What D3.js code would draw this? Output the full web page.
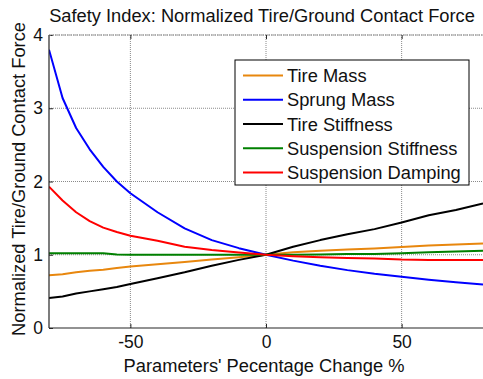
<!DOCTYPE html>
<html>
<head>
<meta charset="utf-8">
<script src="https://cdn.jsdelivr.net/npm/d3@7"></script>
<style>
  html, body { margin: 0; padding: 0; background: #fff; }
  svg { display: block; font-family: "Liberation Sans", Arial, sans-serif; }
</style>
</head>
<body>
<svg id="chart" width="483" height="379"></svg>
<script>
// Parameter change (%) sample points
const changePct = [-80, -75, -70, -65, -60, -55, -50, -40, -30, -20, -10, 0, 10, 20, 30, 40, 50, 60, 70, 80];

// Normalized tire/ground contact force for each varied parameter
const tireMass = [0.72, 0.735, 0.76, 0.78, 0.795, 0.82, 0.84, 0.87, 0.90, 0.935, 0.965, 1.0, 1.035, 1.055, 1.07, 1.085, 1.105, 1.125, 1.14, 1.155];
const sprungMass = [3.80, 3.14, 2.73, 2.44, 2.20, 2.00, 1.84, 1.58, 1.36, 1.20, 1.09, 1.0, 0.92, 0.85, 0.79, 0.74, 0.70, 0.66, 0.625, 0.595];
const tireStiffness = [0.41, 0.43, 0.47, 0.50, 0.53, 0.56, 0.60, 0.68, 0.76, 0.85, 0.93, 1.0, 1.11, 1.20, 1.28, 1.35, 1.44, 1.54, 1.61, 1.70];
const suspStiffness = [1.02, 1.02, 1.02, 1.02, 1.02, 1.005, 1.0, 1.0, 1.0, 1.0, 1.0, 1.0, 1.0, 1.005, 1.01, 1.01, 1.02, 1.035, 1.045, 1.055];
const suspDamping = [1.93, 1.74, 1.58, 1.46, 1.37, 1.31, 1.26, 1.19, 1.11, 1.065, 1.03, 1.0, 0.98, 0.965, 0.955, 0.95, 0.935, 0.93, 0.93, 0.93];

const seriesNames = ["Tire Mass", "Sprung Mass", "Tire Stiffness", "Suspension Stiffness", "Suspension Damping"];
const seriesValues = [tireMass, sprungMass, tireStiffness, suspStiffness, suspDamping];
const seriesColors = ["#e8870e", "#0000ff", "#000000", "#008000", "#ff0000"];

const xTicks = [-50, 0, 50];
const yTicks = [0, 1, 2, 3, 4];

const titleText = "Safety Index: Normalized Tire/Ground Contact Force";
const xLabel = "Parameters' Pecentage Change %";
const yLabel = "Normalized Tire/Ground Contact Force";

const svg = d3.select("#chart");
const margin = { left: 49, right: 0, top: 35, bottom: 51 };
const W = 483, H = 379;
const x = d3.scaleLinear().domain([-80, 80]).range([margin.left, W - margin.right]);
const y = d3.scaleLinear().domain([0, 4]).range([H - margin.bottom, margin.top]);
const plainNum = d => String(d);   // keep an ASCII hyphen for negatives
const font = "Liberation Sans, Arial, sans-serif";

const plot = svg.append("g");

// grid lines
plot.selectAll("line.gx").data(xTicks).enter().append("line")
  .attr("x1", d => x(d)).attr("x2", d => x(d))
  .attr("y1", y(0)).attr("y2", y(4))
  .attr("stroke", "#8a8a8a").attr("stroke-width", 1).attr("stroke-dasharray", "1,1");
plot.selectAll("line.gy").data(yTicks.filter(d => d > 0)).enter().append("line")
  .attr("x1", x(-80)).attr("x2", x(80))
  .attr("y1", d => y(d)).attr("y2", d => y(d))
  .attr("stroke", "#8a8a8a").attr("stroke-width", 1).attr("stroke-dasharray", "1,1");

// data lines
const clipId = "plotClip";
svg.append("defs").append("clipPath").attr("id", clipId)
  .append("rect").attr("x", x(-80)).attr("y", y(4)).attr("width", x(80) - x(-80)).attr("height", y(0) - y(4));

const line = d3.line().x((d, i) => x(changePct[i])).y(d => y(d));
plot.append("g").attr("clip-path", `url(#${clipId})`)
  .selectAll("path").data(seriesValues).enter().append("path")
  .attr("d", d => line(d))
  .attr("fill", "none")
  .attr("stroke", (d, i) => seriesColors[i])
  .attr("stroke-width", 2)
  .attr("stroke-linejoin", "round");

// axes with inward ticks
const xAxis = d3.axisBottom(x).tickValues(xTicks).tickSize(-4).tickPadding(8).tickFormat(plainNum);
const gx = svg.append("g").attr("transform", `translate(0,${y(0)})`).call(xAxis);
gx.select(".domain").attr("d", `M${x(-80)},0H${x(80)}`).attr("stroke", "#262626").attr("stroke-width", 1.2);
gx.selectAll(".tick line").attr("stroke", "#262626");
gx.selectAll("text").attr("font-size", 17.5).attr("fill", "#111").style("font-family", font);

const yAxis = d3.axisLeft(y).tickValues(yTicks).tickSize(-4).tickPadding(6).tickFormat(plainNum);
const gy = svg.append("g").attr("transform", `translate(${x(-80)},0)`).call(yAxis);
gy.select(".domain").attr("d", `M0,${y(0)}V${y(4)}`).attr("stroke", "#262626").attr("stroke-width", 1.2);
gy.selectAll(".tick line").attr("stroke", "#262626");
gy.selectAll("text").attr("font-size", 17.5).attr("fill", "#111").style("font-family", font);

// top edge with ticks
const gt = svg.append("g").attr("transform", `translate(0,${y(4)})`)
  .call(d3.axisTop(x).tickValues(xTicks).tickSize(-4).tickFormat(""));
gt.select(".domain").attr("d", `M${x(-80)},0H${x(80)}`).attr("stroke", "#9a9a9a").attr("stroke-width", 1).attr("stroke-dasharray", "2,1");
gt.selectAll(".tick line").attr("stroke", "#262626");

// title and axis labels
svg.append("text").attr("x", 262).attr("y", 22)
  .attr("text-anchor", "middle").attr("font-size", 18.3).attr("fill", "#111").text(titleText);
svg.append("text").attr("x", 264).attr("y", 372)
  .attr("text-anchor", "middle").attr("font-size", 18.3).attr("fill", "#111").text(xLabel);
svg.append("text").attr("transform", `translate(25,179) rotate(-90)`)
  .attr("text-anchor", "middle").attr("font-size", 18.3).attr("fill", "#111").text(yLabel);

// legend
const lg = svg.append("g");
const lgX = 235, lgY = 60, lgW = 234, lgH = 125;
lg.append("rect").attr("x", lgX).attr("y", lgY).attr("width", lgW).attr("height", lgH)
  .attr("fill", "#fff").attr("stroke", "#000").attr("stroke-width", 1);
const rowY = d3.scaleLinear().domain([0, 4]).range([lgY + 15.5, lgY + 112.5]);
seriesNames.forEach((name, i) => {
  lg.append("line").attr("x1", lgX + 8).attr("x2", lgX + 48)
    .attr("y1", rowY(i)).attr("y2", rowY(i))
    .attr("stroke", seriesColors[i]).attr("stroke-width", 2);
  lg.append("text").attr("x", lgX + 52).attr("y", rowY(i) + 6.5)
    .attr("font-size", 18.3).attr("fill", "#111").text(name);
});
</script>
</body>
</html>
